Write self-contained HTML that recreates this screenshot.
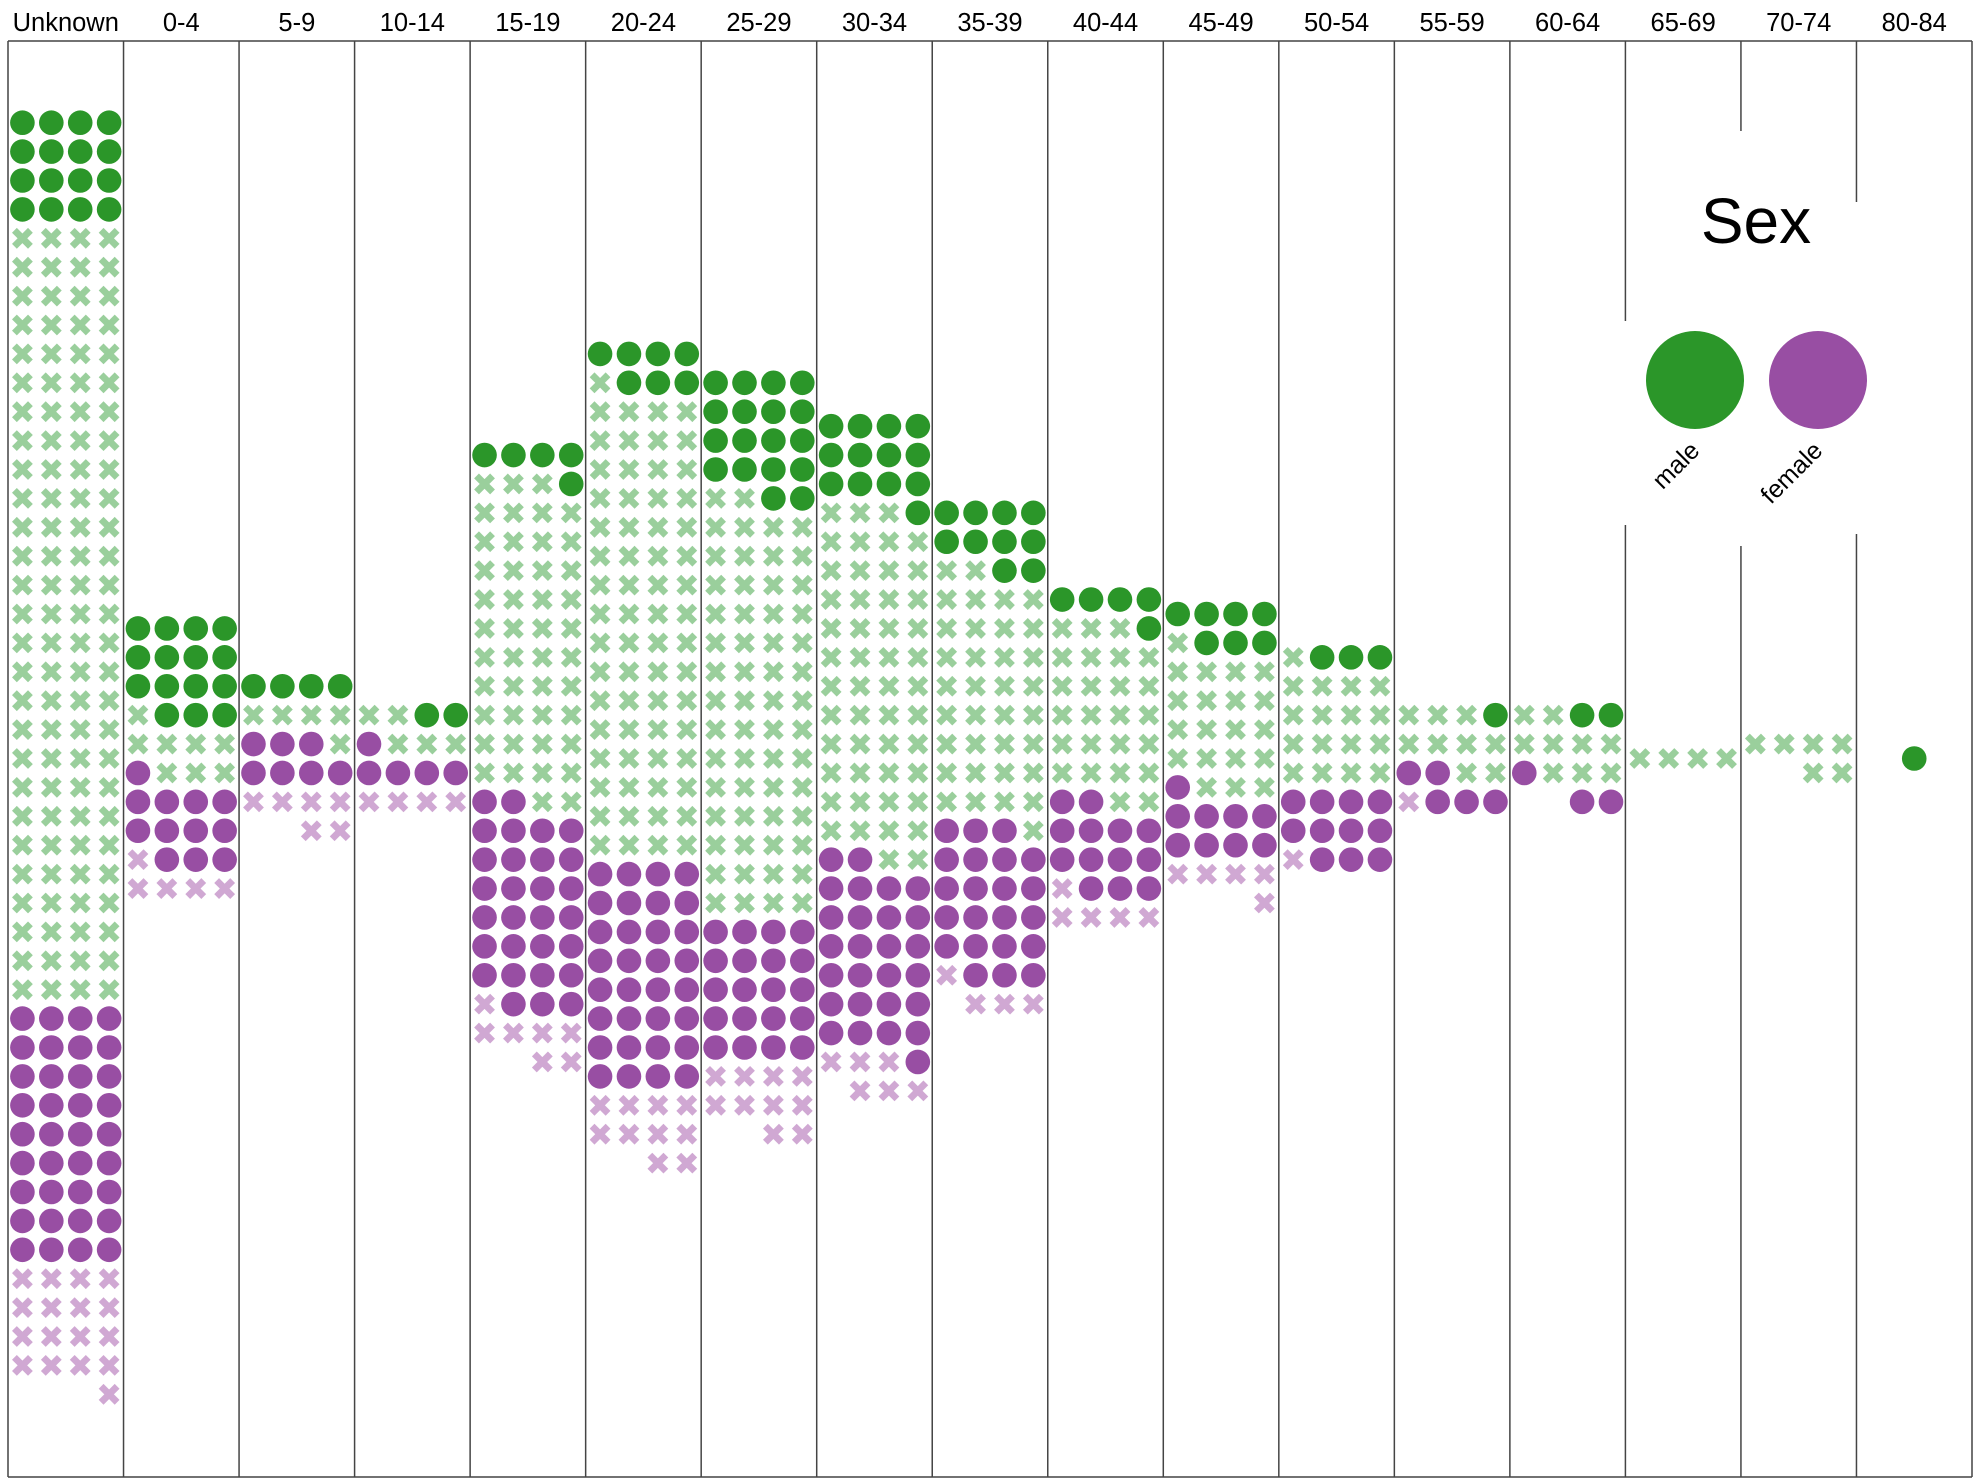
<!DOCTYPE html>
<html>
<head>
<meta charset="utf-8">
<style>
  html, body { margin: 0; padding: 0; background: #ffffff; }
  svg { display: block; font-family: "Liberation Sans", Arial, sans-serif; }
</style>
</head>
<body>
<svg id="chart" width="1978" height="1484" viewBox="0 0 1978 1484" xmlns="http://www.w3.org/2000/svg">
  <rect x="0" y="0" width="1978" height="1484" fill="#ffffff"/>
  <g id="frames"></g>
  <g id="headers"></g>
  <g id="marks"></g>
  <g id="legend"></g>
</svg>
<script>
const categories = ["Unknown","0-4","5-9","10-14","15-19","20-24","25-29","30-34","35-39","40-44","45-49","50-54","55-59","60-64","65-69","70-74","80-84"];
const maleFilled   = [16,15,4,2,5,7,18,13,10,5,7,3,1,2,0,0,1];
const maleCross    = [108,8,5,5,45,65,58,49,35,25,20,17,9,9,4,6,0];
const femaleFilled = [36,12,7,5,29,32,20,27,22,13,9,11,5,3,0,0,0];
const femaleCross  = [17,5,6,4,7,10,10,6,4,5,5,1,1,0,0,0,0];

const NS = "http://www.w3.org/2000/svg";
const LEFT = 8, RIGHT = 1972, TOP = 41, BOTTOM = 1477;
const colW = (RIGHT - LEFT) / categories.length;
const PITCH = 28.9, MID = 758.5, R = 12.3;
const GREEN = "#2b9629", LGREEN = "#9acf9c", PURPLE = "#984ea3", LPURPLE = "#d0a8d3";

function colX(i) { return LEFT + i * colW; }
function mk(tag, attrs, parent) {
  const el = document.createElementNS(NS, tag);
  for (const k in attrs) el.setAttribute(k, attrs[k]);
  parent.appendChild(el);
  return el;
}

const frames = document.getElementById("frames");
const headers = document.getElementById("headers");
const marks = document.getElementById("marks");
const legend = document.getElementById("legend");

const gaps = { 14: [321, 525], 15: [131, 546], 16: [202, 534] };

let hl = mk("line", { x1: LEFT, x2: RIGHT, y1: TOP, y2: TOP, stroke: "#444", "stroke-width": 1.5 }, frames);


hl = mk("line", { x1: LEFT, x2: RIGHT, y1: BOTTOM, y2: BOTTOM, stroke: "#444", "stroke-width": 1.5 }, frames);


for (let i = 0; i <= categories.length; i++) {
  const x = colX(i);
  const segs = gaps[i] ? [[TOP, gaps[i][0]], [gaps[i][1], BOTTOM]] : [[TOP, BOTTOM]];
  segs.forEach(s => {
    const ln = mk("line", { x1: x, x2: x, y1: s[0], y2: s[1], stroke: "#444", "stroke-width": 1.5 }, frames);
    
    
  });
}

categories.forEach((c, i) => {
  const t = mk("text", { x: colX(i) + colW / 2, y: 31, "text-anchor": "middle", "font-size": 25.5, fill: "#000" }, headers);
  t.textContent = c;
  
  
});

function drawCircle(cx, cy, color, g) {
  return mk("circle", { cx: cx, cy: cy, r: R, fill: color }, g);
}
function drawCross(cx, cy, color, g) {
  const d = 8;
  return mk("path", { d: `M${cx-d},${cy-d}L${cx+d},${cy+d}M${cx-d},${cy+d}L${cx+d},${cy-d}`, stroke: color, "stroke-width": 6.8, fill: "none" }, g);
}

categories.forEach((c, i) => {
  const g = mk("g", {}, marks);
  
  
  const seq = [];
  for (let k = 0; k < maleFilled[i]; k++) seq.push("mf");
  for (let k = 0; k < maleCross[i]; k++) seq.push("mx");
  for (let k = 0; k < femaleFilled[i]; k++) seq.push("ff");
  for (let k = 0; k < femaleCross[i]; k++) seq.push("fx");
  const N = seq.length;
  if (!N) return;
  const ncol = Math.min(4, N);
  const nrows = Math.ceil(N / ncol);
  const cxMid = colX(i) + colW / 2;
  seq.forEach((t, j) => {
    const row = Math.floor(j / ncol);
    const col = ncol - 1 - (j % ncol);
    const x = cxMid + (col - (ncol - 1) / 2) * PITCH;
    const y = MID + (row - (nrows - 1) / 2) * PITCH;
    let el;
    if (t === "mf") {
      el = drawCircle(x, y, GREEN, g);
      
    } else if (t === "mx") {
      el = drawCross(x, y, LGREEN, g);
      
    } else if (t === "ff") {
      el = drawCircle(x, y, PURPLE, g);
      
    } else {
      el = drawCross(x, y, LPURPLE, g);
      
    }
    
  });
});

const title = mk("text", { x: 1756, y: 243, "text-anchor": "middle", "font-size": 64, fill: "#000" }, legend);
title.textContent = "Sex";


const lg = [["male", GREEN, 1695], ["female", PURPLE, 1818]];
lg.forEach(e => {
  const c = mk("circle", { cx: e[2], cy: 380, r: 49, fill: e[1] }, legend);
  
  
  const tx = e[2] + 6, ty = 452;
  const t = mk("text", { x: tx, y: ty, "text-anchor": "end", "font-size": 25, fill: "#000", transform: `rotate(-45 ${tx} ${ty})` }, legend);
  t.textContent = e[0];
  
  
});
</script>
</body>
</html>
